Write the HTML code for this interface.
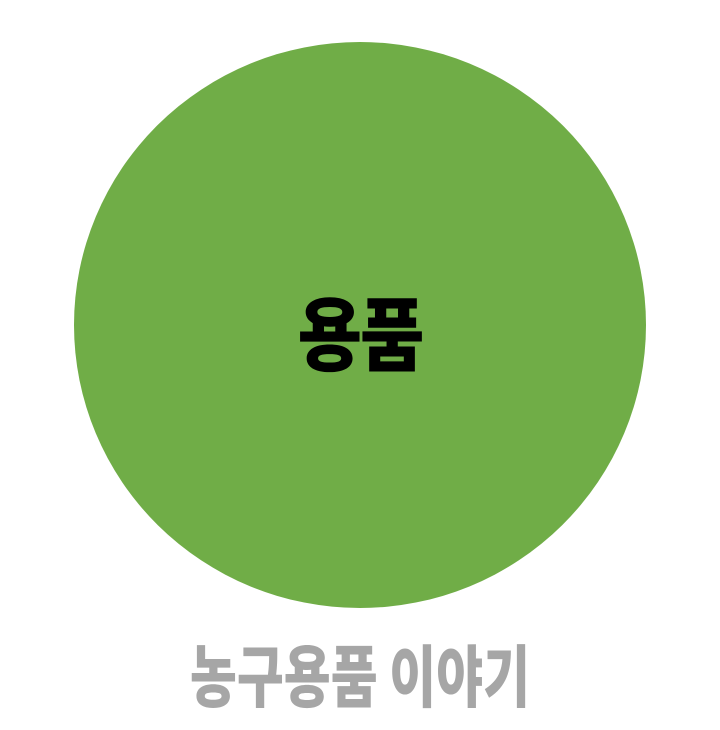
<!DOCTYPE html>
<html><head><meta charset="utf-8"><style>
html,body{margin:0;padding:0;background:#fff;width:720px;height:730px;overflow:hidden}
#c{position:absolute;left:74px;top:42px;width:572px;height:566px;border-radius:50%;background:#70ad47}
#t{position:absolute;left:0;width:720px;top:286px;text-align:center;font:900 70px "Noto Sans CJK KR","NanumGothic",sans-serif;color:#000;line-height:90px;letter-spacing:-2px;transform:scaleY(1.15);transform-origin:50% 50%}
#b{position:absolute;left:0;width:720px;top:638px;text-align:center;font:900 50px "Noto Sans CJK KR","NanumGothic",sans-serif;color:#a6a6a6;line-height:70px;letter-spacing:0px;transform:scale(1.02,1.35);transform-origin:50% 50%}
</style></head><body>
<div id="c"></div>
<div id="t">용품</div>
<div id="b">농구용품 이야기</div>
</body></html>
